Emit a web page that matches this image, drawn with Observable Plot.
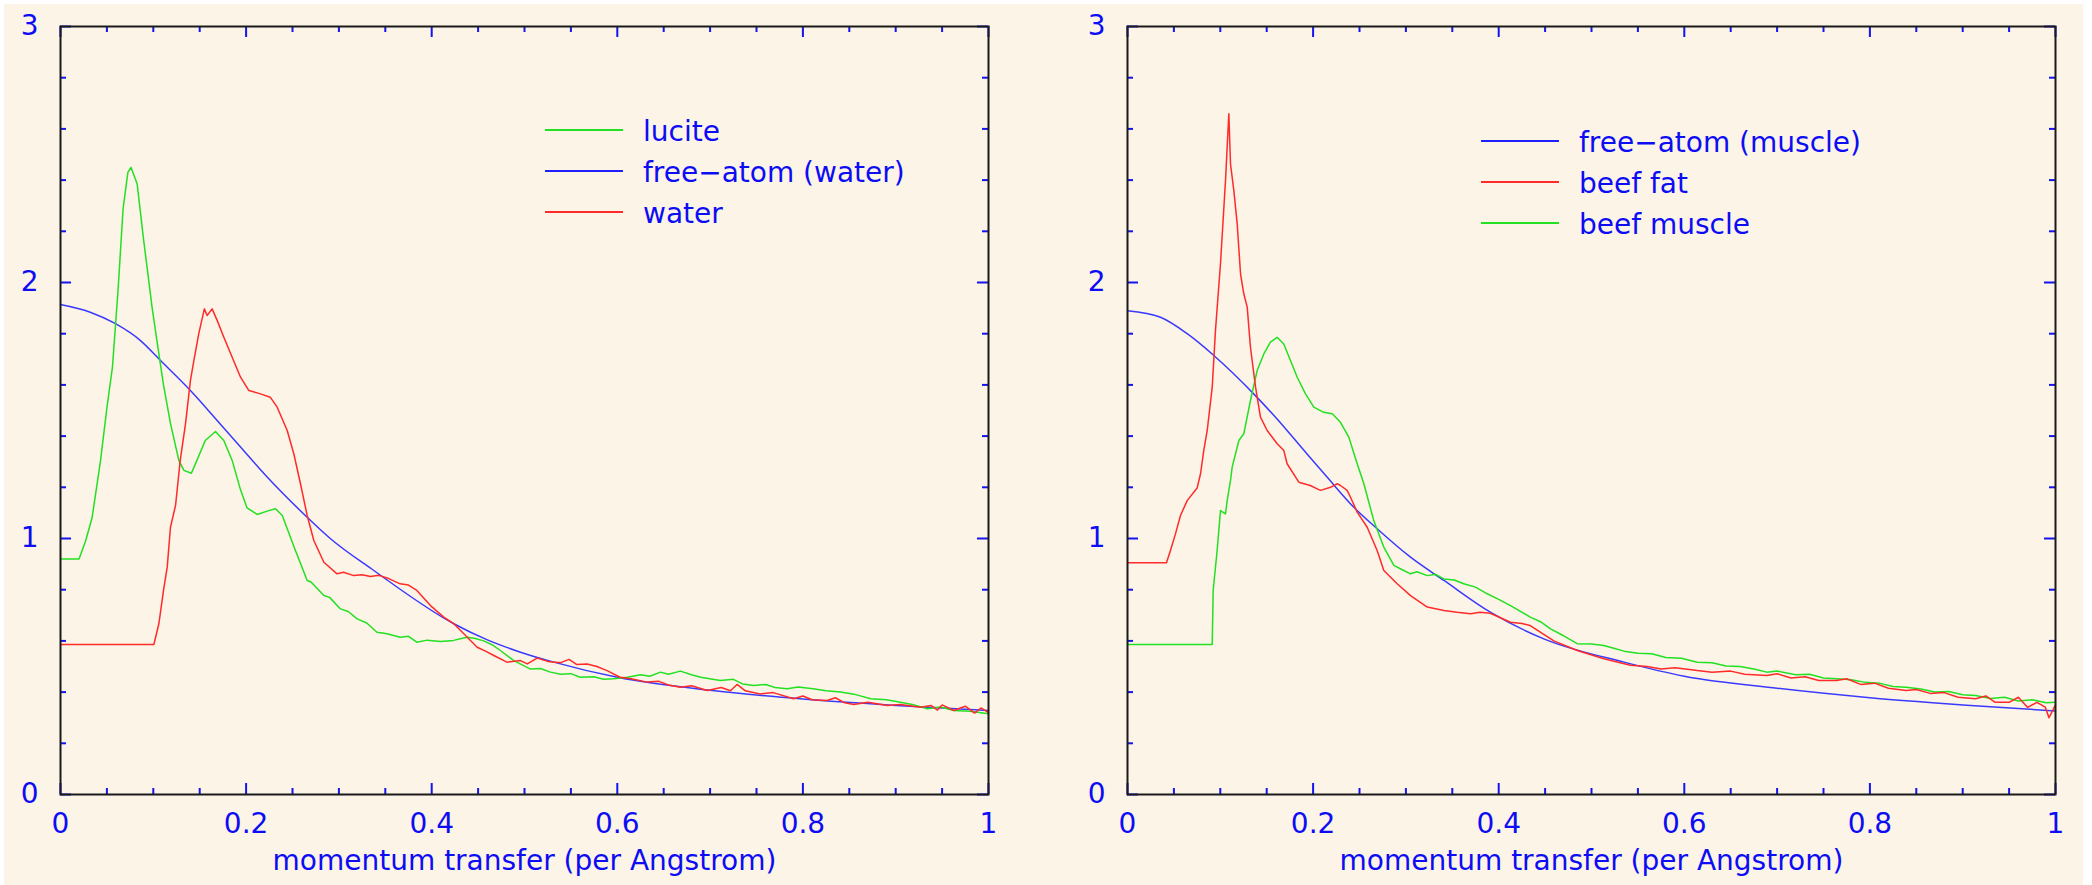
<!DOCTYPE html>
<html><head><meta charset="utf-8">
<script src="https://cdn.jsdelivr.net/npm/d3@7"></script>
<script src="https://cdn.jsdelivr.net/npm/@observablehq/plot@0.6"></script>
<style>
html,body{margin:0;padding:0;background:#ffffff;}
#bg{position:absolute;left:4px;top:4px;width:2079px;height:881px;background:#fcf4e6;}
.panel{position:absolute;top:0;}
#p1{left:0px;} #p2{left:1046px;}
svg{overflow:visible;}
</style></head><body>
<div id="bg"></div><div id="p1" class="panel"></div><div id="p2" class="panel"></div>
<script>
// ---------- data ----------
const xTickValues = [0, 0.2, 0.4, 0.6, 0.8, 1];
const xTickLabels = ["0", "0.2", "0.4", "0.6", "0.8", "1"];
const xMinorTicks = [0.05, 0.1, 0.15, 0.25, 0.3, 0.35, 0.45, 0.5, 0.55, 0.65, 0.7, 0.75, 0.85, 0.9, 0.95];
const yTickValues = [0, 1, 2, 3];
const yTickLabels = ["0", "1", "2", "3"];
const yMinorTicks = [0.2, 0.4, 0.6, 0.8, 1.2, 1.4, 1.6, 1.8, 2.2, 2.4, 2.6, 2.8];
const xTitle = "momentum transfer (per Angstrom)";

// left panel
const leftNames = ["lucite", "free\u2212atom (water)", "water"];
const lucite = [[0,0.92],[0.02,0.92],[0.027,0.99],[0.034,1.08],[0.043,1.30],[0.05,1.51],[0.056,1.67],[0.062,1.97],[0.0675,2.29],[0.0726,2.43],[0.076,2.45],[0.0826,2.385],[0.0898,2.16],[0.0988,1.90],[0.104,1.77],[0.111,1.60],[0.1185,1.45],[0.1275,1.305],[0.133,1.266],[0.141,1.255],[0.147,1.305],[0.156,1.383],[0.167,1.418],[0.176,1.383],[0.185,1.305],[0.194,1.19],[0.201,1.12],[0.212,1.094],[0.2227,1.107],[0.2317,1.116],[0.239,1.09],[0.2514,0.97],[0.2658,0.836],[0.27,0.83],[0.2838,0.777],[0.29,0.77],[0.3017,0.725],[0.31,0.715],[0.3197,0.686],[0.33,0.67],[0.341,0.634],[0.352,0.628],[0.366,0.614],[0.375,0.618],[0.384,0.595],[0.395,0.603],[0.4095,0.598],[0.4235,0.602],[0.438,0.614],[0.446,0.61],[0.456,0.60],[0.465,0.585],[0.474,0.5625],[0.4885,0.523],[0.5065,0.49],[0.517,0.492],[0.528,0.478],[0.539,0.47],[0.55,0.472],[0.56,0.458],[0.575,0.46],[0.585,0.45],[0.596,0.452],[0.611,0.458],[0.625,0.468],[0.635,0.462],[0.6466,0.478],[0.655,0.47],[0.668,0.482],[0.68,0.468],[0.69,0.458],[0.711,0.445],[0.725,0.45],[0.735,0.432],[0.747,0.426],[0.76,0.43],[0.77,0.418],[0.783,0.413],[0.795,0.42],[0.811,0.413],[0.825,0.405],[0.8405,0.40],[0.855,0.392],[0.873,0.374],[0.89,0.37],[0.905,0.36],[0.918,0.352],[0.934,0.335],[0.948,0.342],[0.9626,0.328],[0.98,0.325],[1,0.315]];
const freeAtomWater = [[0,1.914],[0.032,1.884],[0.0593,1.839],[0.0862,1.773],[0.1078,1.695],[0.14,1.578],[0.1688,1.461],[0.194,1.357],[0.2227,1.24],[0.2658,1.083],[0.291,0.999],[0.3376,0.875],[0.4238,0.667],[0.46,0.604],[0.4957,0.556],[0.5316,0.517],[0.6,0.458],[0.7,0.407],[0.8,0.373],[0.9,0.348],[1,0.328]];
const water = [[0,0.586],[0.1006,0.586],[0.106,0.667],[0.111,0.797],[0.115,0.888],[0.1185,1.044],[0.124,1.13],[0.129,1.305],[0.1347,1.448],[0.14,1.617],[0.1437,1.695],[0.149,1.80],[0.155,1.897],[0.158,1.871],[0.1634,1.897],[0.1688,1.852],[0.176,1.786],[0.185,1.708],[0.194,1.63],[0.203,1.578],[0.2155,1.565],[0.226,1.552],[0.2335,1.513],[0.2443,1.422],[0.2514,1.331],[0.2586,1.214],[0.2658,1.09],[0.273,0.992],[0.2838,0.907],[0.298,0.862],[0.305,0.868],[0.316,0.855],[0.325,0.858],[0.334,0.852],[0.343,0.856],[0.352,0.846],[0.366,0.823],[0.375,0.818],[0.384,0.797],[0.3987,0.738],[0.413,0.693],[0.4238,0.667],[0.4346,0.628],[0.449,0.575],[0.458,0.56],[0.467,0.543],[0.481,0.517],[0.4957,0.523],[0.503,0.51],[0.5137,0.533],[0.525,0.52],[0.539,0.515],[0.548,0.528],[0.556,0.508],[0.5675,0.51],[0.578,0.5],[0.589,0.484],[0.603,0.458],[0.615,0.452],[0.632,0.439],[0.645,0.442],[0.655,0.428],[0.668,0.419],[0.68,0.425],[0.697,0.406],[0.712,0.418],[0.722,0.405],[0.729,0.43],[0.738,0.405],[0.754,0.393],[0.768,0.398],[0.79,0.374],[0.8,0.385],[0.81,0.37],[0.826,0.367],[0.835,0.378],[0.845,0.358],[0.855,0.352],[0.87,0.36],[0.891,0.348],[0.905,0.352],[0.927,0.341],[0.938,0.348],[0.945,0.33],[0.95,0.35],[0.9626,0.328],[0.975,0.345],[0.985,0.318],[0.992,0.338],[1,0.32]];

// right panel
const rightNames = ["free\u2212atom (muscle)", "beef fat", "beef muscle"];
const freeAtomMuscle = [[0,1.89],[0.0356,1.864],[0.0643,1.80],[0.093,1.715],[0.136,1.565],[0.172,1.422],[0.1864,1.36],[0.215,1.24],[0.2439,1.122],[0.269,1.038],[0.305,0.927],[0.341,0.836],[0.391,0.712],[0.4486,0.608],[0.535,0.517],[0.6,0.462],[0.7,0.415],[0.8,0.378],[0.9,0.35],[1,0.326]];
const beefFat = [[0,0.905],[0.042,0.905],[0.0463,0.953],[0.0517,1.018],[0.0571,1.09],[0.0643,1.148],[0.075,1.197],[0.0787,1.253],[0.0822,1.344],[0.0859,1.422],[0.0913,1.591],[0.0948,1.813],[0.1002,2.073],[0.1056,2.398],[0.1092,2.659],[0.111,2.463],[0.1146,2.359],[0.1182,2.229],[0.1218,2.034],[0.1253,1.956],[0.129,1.904],[0.1325,1.747],[0.138,1.591],[0.1433,1.474],[0.1505,1.422],[0.1613,1.37],[0.1684,1.344],[0.172,1.292],[0.1846,1.22],[0.197,1.207],[0.2044,1.194],[0.208,1.188],[0.2188,1.20],[0.226,1.214],[0.2295,1.207],[0.2367,1.188],[0.2403,1.161],[0.2475,1.103],[0.2583,1.044],[0.269,0.953],[0.2762,0.875],[0.2906,0.823],[0.305,0.777],[0.323,0.732],[0.341,0.719],[0.355,0.712],[0.3696,0.706],[0.38,0.712],[0.391,0.708],[0.4127,0.673],[0.425,0.668],[0.434,0.66],[0.4594,0.60],[0.4846,0.5625],[0.5133,0.53],[0.542,0.505],[0.56,0.5],[0.575,0.49],[0.59,0.495],[0.614,0.484],[0.63,0.478],[0.65,0.482],[0.665,0.47],[0.689,0.465],[0.7,0.472],[0.715,0.455],[0.73,0.46],[0.745,0.445],[0.764,0.445],[0.775,0.452],[0.79,0.43],[0.805,0.435],[0.82,0.415],[0.839,0.406],[0.85,0.41],[0.865,0.395],[0.88,0.398],[0.895,0.38],[0.914,0.374],[0.925,0.385],[0.935,0.36],[0.95,0.36],[0.96,0.38],[0.97,0.34],[0.98,0.36],[0.989,0.341],[0.993,0.3],[1,0.35]];
const beefMuscle = [[0,0.586],[0.0913,0.586],[0.0923,0.797],[0.0966,0.953],[0.1002,1.109],[0.1056,1.096],[0.1074,1.148],[0.111,1.227],[0.1128,1.279],[0.12,1.383],[0.1253,1.409],[0.1325,1.539],[0.1397,1.656],[0.1469,1.721],[0.154,1.767],[0.1613,1.786],[0.1684,1.76],[0.1756,1.695],[0.1829,1.63],[0.1918,1.565],[0.2008,1.513],[0.2115,1.493],[0.2206,1.487],[0.2295,1.454],[0.2385,1.396],[0.2475,1.292],[0.2547,1.214],[0.2654,1.07],[0.2762,0.966],[0.287,0.895],[0.295,0.88],[0.305,0.862],[0.312,0.87],[0.323,0.855],[0.332,0.86],[0.341,0.842],[0.352,0.838],[0.3624,0.823],[0.375,0.81],[0.3876,0.784],[0.4,0.762],[0.4127,0.738],[0.434,0.693],[0.445,0.675],[0.4558,0.647],[0.47,0.62],[0.4846,0.589],[0.5,0.588],[0.5133,0.582],[0.525,0.57],[0.535,0.56],[0.55,0.552],[0.565,0.55],[0.58,0.535],[0.597,0.532],[0.614,0.517],[0.63,0.515],[0.645,0.502],[0.66,0.5],[0.675,0.49],[0.689,0.478],[0.7,0.482],[0.72,0.468],[0.735,0.47],[0.75,0.455],[0.764,0.452],[0.78,0.448],[0.795,0.438],[0.81,0.435],[0.825,0.422],[0.839,0.419],[0.855,0.412],[0.87,0.4],[0.885,0.402],[0.9,0.39],[0.914,0.387],[0.93,0.375],[0.945,0.38],[0.96,0.365],[0.975,0.37],[0.99,0.358],[1,0.36]];

// ---------- styling ----------
const TEXT = "#0c0cf5";
const TICK = "#1414f0";
const GREEN = "#22e022", RED = "#ff2a2a", BLUE = "#3a3aff", LBLUE = "#2020ff";
const W = 1046, H = 885, MT = 26, MB = 91;
const FONT = "'DejaVu Sans', Verdana, sans-serif";

function makePanel(el, series, legendNames, legendColors, mL, mR, legX, legY) {
  const fw = W - mL - mR, fh = H - MT - MB;
  const tk = {stroke: TICK, strokeWidth: 2};
  const marks = [
    Plot.tickX(xTickValues, {x: d => d, insetTop: fh - 11, ...tk}),
    Plot.tickX(xTickValues, {x: d => d, insetBottom: fh - 11, ...tk}),
    Plot.tickX(xMinorTicks, {x: d => d, insetTop: fh - 6, ...tk}),
    Plot.tickX(xMinorTicks, {x: d => d, insetBottom: fh - 6, ...tk}),
    Plot.tickY(yTickValues, {y: d => d, insetRight: fw - 11, ...tk}),
    Plot.tickY(yTickValues, {y: d => d, insetLeft: fw - 11, ...tk}),
    Plot.tickY(yMinorTicks, {y: d => d, insetRight: fw - 6, ...tk}),
    Plot.tickY(yMinorTicks, {y: d => d, insetLeft: fw - 6, ...tk}),
    ...series.map(s => Plot.line(s.data, {x: d => d[0], y: d => d[1], stroke: s.color, strokeWidth: 1.5, curve: s.smooth ? "monotone-x" : "linear"})),
    Plot.frame({stroke: "#1a1a1a", strokeWidth: 2}),
    Plot.axisX(xTickValues, {anchor: "bottom", tickSize: 0, tickPadding: 19, tickFormat: d => xTickLabels[xTickValues.indexOf(d)], fontSize: 28, fill: TEXT, label: null}),
    Plot.axisY(yTickValues, {anchor: "left", tickSize: 0, tickPadding: 22, tickFormat: d => yTickLabels[yTickValues.indexOf(d)], fontSize: 28, fill: TEXT, label: null}),
    Plot.text([xTitle], {text: d => d, frameAnchor: "bottom", dy: 75, fontSize: 28, fill: TEXT})
  ];
  const svg = Plot.plot({
    width: W, height: H,
    marginLeft: mL, marginRight: mR, marginTop: MT, marginBottom: MB,
    x: {domain: [0, 1]}, y: {domain: [0, 3]},
    style: {background: "transparent", fontFamily: FONT, fontSize: "28px", color: TEXT, overflow: "visible"},
    marks
  });
  // legend
  const g = d3.select(svg).append("g").attr("text-anchor", "start");
  legendNames.forEach((name, i) => {
    const y = legY + i * 41;
    g.append("line").attr("x1", legX).attr("x2", legX + 78).attr("y1", y).attr("y2", y)
      .attr("stroke", legendColors[i]).attr("stroke-width", 2);
    g.append("text").attr("x", legX + 98).attr("y", y + 11).attr("fill", TEXT)
      .attr("text-anchor", "start")
      .attr("font-size", 28).attr("font-family", FONT).text(name);
  });
  document.getElementById(el).appendChild(svg);
}

makePanel("p1",
  [{data: freeAtomWater, color: BLUE, smooth: true}, {data: lucite, color: GREEN}, {data: water, color: RED}],
  leftNames, [GREEN, LBLUE, RED], 60, 58, 545, 130);
makePanel("p2",
  [{data: freeAtomMuscle, color: BLUE, smooth: true}, {data: beefMuscle, color: GREEN}, {data: beefFat, color: RED}],
  rightNames, [LBLUE, RED, GREEN], 81, 37, 435, 141);
</script>
</body></html>
